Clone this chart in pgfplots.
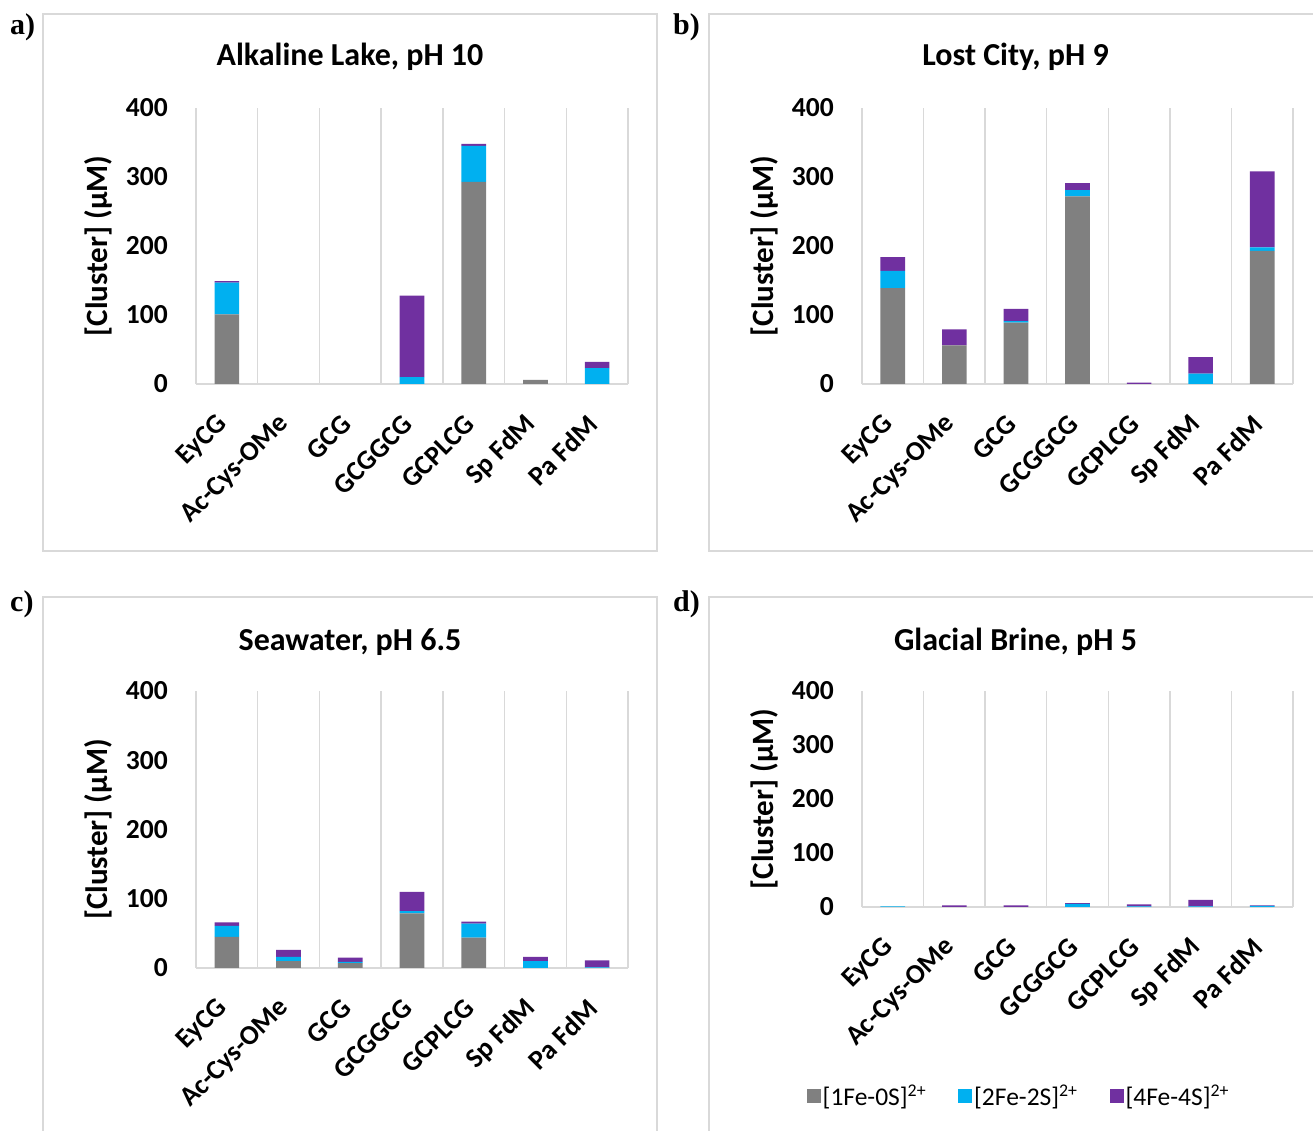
\documentclass[border=0pt]{standalone}
\usepackage{fontspec}
\setmainfont{Carlito}
\newfontfamily\tnr{Liberation Serif}
\usepackage{pgfplots}
\pgfplotsset{compat=1.18}
\definecolor{gc}{HTML}{D9D9D9}
\definecolor{c1}{HTML}{808080}
\definecolor{c2}{HTML}{00B0F0}
\definecolor{c3}{HTML}{7030A0}
\pgfplotsset{panel/.style={
 scale only axis, width=432pt,
 ybar stacked, bar width=0.4,
 ymin=0, ymax=400, ytick={0,100,...,400},
 xmin=-0.5, xmax=6.5,
 xtick={0,...,6},
 xticklabels={EyCG,Ac-Cys-OMe,GCG,GCGGCG,GCPLCG,Sp FdM,Pa FdM},
 minor xtick={-0.5,0.5,...,6.5},
 xminorgrids, minor grid style={gc, line width=1.5pt},
 major tick length=0pt, minor tick length=0pt,
 axis x line=bottom, axis y line=left,
 separate axis lines,
 x axis line style={gc, line width=1.5pt, -},
 y axis line style={draw=none},
 tick label style={font=\bfseries\fontsize{27.5}{27.5}\selectfont},
 /pgf/number format/assume math mode=true,
 yticklabel style={inner sep=0pt, xshift=-28pt},
 xticklabel style={inner sep=0pt, yshift=-36pt, xshift=-4pt, rotate=45, anchor=east},
 ylabel={\relax[Cluster] (µM)},
 ylabel style={font=\bfseries\fontsize{31}{31}\selectfont, at={(axis description cs:-0.227,0.5)}, anchor=center},
 title style={font=\bfseries\fontsize{32}{32}\selectfont, at={(axis description cs:0.5,1)}, anchor=center, xshift=-62pt, yshift=45pt},
 every axis plot/.append style={draw=none},
}}
\begin{document}
\begin{tikzpicture}
\useasboundingbox (0,0) rectangle (1313pt,1131pt);
\clip (0,0) rectangle (1313pt,1131pt);
\draw[gc, line width=1.5pt] (43pt,580pt) rectangle (657pt,1117pt);
\draw[gc, line width=1.5pt] (709pt,580pt) rectangle (1330pt,1117pt);
\draw[gc, line width=1.5pt] (43pt,-10pt) rectangle (657pt,534pt);
\draw[gc, line width=1.5pt] (709pt,-10pt) rectangle (1330pt,534pt);

\begin{axis}[panel, height=276pt, at={(196pt,747pt)}, anchor=south west, title={Alkaline Lake, pH 10}]
\addplot[fill=c1] coordinates {(0,101) (1,0) (2,0) (3,0) (4,293) (5,6) (6,0)};
\addplot[fill=c2] coordinates {(0,46) (1,0) (2,0) (3,10) (4,52) (5,0) (6,23)};
\addplot[fill=c3] coordinates {(0,2) (1,0) (2,0) (3,118) (4,3) (5,0) (6,9)};
\end{axis}

\begin{axis}[panel, width=431pt, height=276pt, at={(862pt,747pt)}, anchor=south west, title={Lost City, pH 9}]
\addplot[fill=c1] coordinates {(0,139) (1,56) (2,89) (3,272) (4,0) (5,0) (6,193)};
\addplot[fill=c2] coordinates {(0,25) (1,0) (2,2) (3,9) (4,0) (5,15) (6,5)};
\addplot[fill=c3] coordinates {(0,20) (1,23) (2,18) (3,10) (4,2) (5,24) (6,110)};
\end{axis}

\begin{axis}[panel, height=277pt, at={(196pt,163pt)}, anchor=south west, title={Seawater, pH 6.5}, title style={yshift=-2pt}]
\addplot[fill=c1] coordinates {(0,45) (1,10) (2,7) (3,79) (4,44) (5,0) (6,0)};
\addplot[fill=c2] coordinates {(0,16) (1,6) (2,2) (3,3) (4,20) (5,10) (6,1)};
\addplot[fill=c3] coordinates {(0,5) (1,10) (2,6) (3,28) (4,3) (5,6) (6,10)};
\end{axis}

\begin{axis}[panel, width=431pt, height=216pt, at={(862pt,224pt)}, anchor=south west, title={Glacial Brine, pH 5}, title style={yshift=-2pt},
 legend image code/.code={\fill[#1] (0pt,-7pt) rectangle (14pt,7pt);},
 legend style={at={(axis description cs:0.364,-0.875)}, anchor=center, draw=none, fill=none,
   font=\fontsize{25.5}{25.5}\selectfont, legend columns=3,
   /tikz/every even column/.append style={column sep=30pt}},
 legend cell align=left]
\addplot[fill=c1] coordinates {(0,0) (1,0) (2,0) (3,0) (4,0) (5,0) (6,0)};
\addlegendentry{\relax[1Fe-0S]\textsuperscript{2+}}
\addplot[fill=c2] coordinates {(0,1) (1,0) (2,0) (3,6) (4,1) (5,1) (6,2)};
\addlegendentry{\relax[2Fe-2S]\textsuperscript{2+}}
\addplot[fill=c3] coordinates {(0,0) (1,3) (2,3) (3,1) (4,4) (5,12) (6,1)};
\addlegendentry{\relax[4Fe-4S]\textsuperscript{2+}}
\end{axis}

\node[font=\tnr\bfseries\fontsize{30}{30}\selectfont, anchor=base west, inner sep=0pt] at (10pt,1096pt) {a)};
\node[font=\tnr\bfseries\fontsize{30}{30}\selectfont, anchor=base west, inner sep=0pt] at (673pt,1096pt) {b)};
\node[font=\tnr\bfseries\fontsize{30}{30}\selectfont, anchor=base west, inner sep=0pt] at (10pt,519pt) {c)};
\node[font=\tnr\bfseries\fontsize{30}{30}\selectfont, anchor=base west, inner sep=0pt] at (673pt,519pt) {d)};
\end{tikzpicture}
\end{document}
